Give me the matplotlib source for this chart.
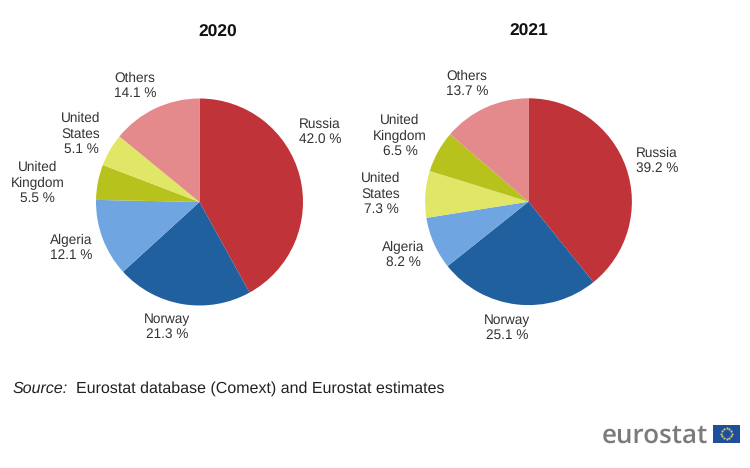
import matplotlib
matplotlib.use("Agg")
import matplotlib.pyplot as plt
from matplotlib.patches import Rectangle
import numpy as np

plt.rcParams["font.family"] = ["Liberation Sans", "DejaVu Sans"]
plt.rcParams["text.hinting"] = "none"

W, H = 750, 468

labels_2020 = ["Russia", "Norway", "Algeria", "United\nKingdom", "United\nStates", "Others"]
values_2020 = [42.0, 21.3, 12.1, 5.5, 5.1, 14.1]
colors_2020 = ["#c03338", "#21609f", "#6fa5e0", "#b7c21c", "#e0e665", "#e58a8c"]

labels_2021 = ["Russia", "Norway", "Algeria", "United\nStates", "United\nKingdom", "Others"]
values_2021 = [39.2, 25.1, 8.2, 7.3, 6.5, 13.7]
colors_2021 = ["#c03338", "#21609f", "#6fa5e0", "#e0e665", "#b7c21c", "#e58a8c"]

# label centres in pixels, same order as the slices
label_pos_2020 = [(320, 131.5), (167, 327), (71, 248), (37.5, 183), (81, 134), (135, 85.5)]
label_pos_2021 = [(657, 161), (507, 328), (403, 255), (381, 194), (400, 136), (467, 83.5)]


def pie_axes(fig, cx, cy, r):
    # pie axes placed by centre and radius in pixels
    ax = fig.add_axes([(cx - r) / W, 1 - (cy + r) / H, 2 * r / W, 2 * r / H])
    ax.set_xlim(-1, 1)
    ax.set_ylim(-1, 1)
    ax.set_aspect("equal")
    ax.axis("off")
    return ax


def draw_pie(fig, cx, cy, r, title, title_pos, labels, values, colors, label_pos):
    ax = pie_axes(fig, cx, cy, r)
    ax.pie(values, colors=colors, startangle=90, counterclock=False, radius=1,
           wedgeprops={"linewidth": 0})
    ax.set_xlim(-1, 1)
    ax.set_ylim(-1, 1)
    fig.text(title_pos[0] / W, 1 - title_pos[1] / H, title, ha="center", va="center",
             fontsize=12.5, fontweight="bold", color="#111111")
    for name, val, (x, y) in zip(labels, values, label_pos):
        fig.text(x / W, 1 - y / H, f"{name}\n{val:.1f} %", ha="center", va="center",
                 fontsize=9.8, color="#333333", linespacing=1.24)


def draw_logo(fig):
    fig.text(602 / W, 1 - 436 / H, "eurostat", ha="left", va="center",
             fontsize=18.7, fontweight="semibold", color="#7b7b7b", family="Open Sans")
    ax = fig.add_axes([713 / W, 1 - 442.5 / H, 27 / W, 18 / H])
    ax.set_xlim(0, 27)
    ax.set_ylim(0, 18)
    ax.axis("off")
    ax.add_patch(Rectangle((0, 0), 27, 18, facecolor="#1f4f9c", edgecolor="none"))
    t = np.arange(12) * np.pi / 6
    ax.scatter(13.5 + 5.6 * np.cos(t), 9 + 5.6 * np.sin(t), s=2.5, color="#c9c86a", linewidths=0)


fig = plt.figure(figsize=(W / 100, H / 100), dpi=100, facecolor="white")

draw_pie(fig, 199.5, 202, 103.5, "2020", (218, 32.5), labels_2020, values_2020, colors_2020, label_pos_2020)
draw_pie(fig, 528.5, 201.7, 103.4, "2021", (529, 31.5), labels_2021, values_2021, colors_2021, label_pos_2021)

fig.text(13 / W, 1 - 388.5 / H, "Source:", ha="left", va="center", fontsize=11.5,
         style="italic", color="#222222")
fig.text(76 / W, 1 - 388.5 / H, "Eurostat database (Comext) and Eurostat estimates", ha="left",
         va="center", fontsize=11.55, color="#222222")

draw_logo(fig)

fig.savefig("out.png", dpi=100)
